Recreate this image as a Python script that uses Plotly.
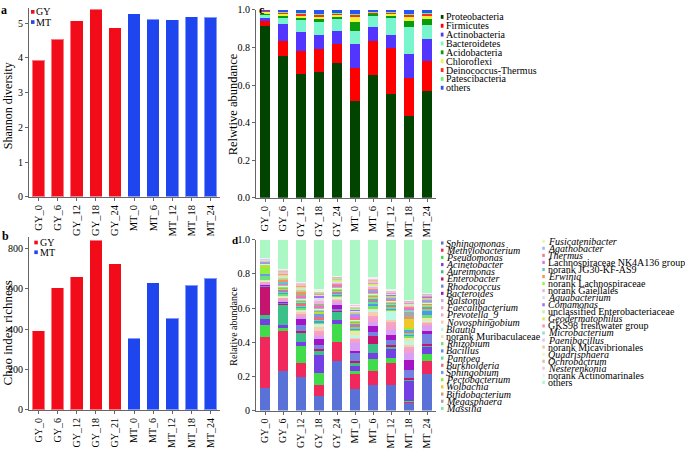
import plotly.graph_objects as go

W, H = 685, 450
FONT = "Liberation Serif, Times New Roman, serif"

# ---------------- data ----------------
gy_a = ["GY_0", "GY_6", "GY_12", "GY_18", "GY_24"]
mt_a = ["MT_0", "MT_6", "MT_12", "MT_18", "MT_24"]
shannon_gy = [3.93, 4.54, 5.07, 5.39, 4.86]
shannon_mt = [5.26, 5.11, 5.09, 5.18, 5.17]

gy_b = ["GY_0", "GY_6", "GY_12", "GY_18", "GY_21"]
mt_b = ["MT_0", "MT_6", "MT_12", "MT_18", "MT_24"]
chao_gy = [393, 607, 660, 842, 726]
chao_mt = [356, 631, 456, 618, 652]

samples = ["GY_0", "GY_6", "GY_12", "GY_18", "GY_24", "MT_0", "MT_6", "MT_12", "MT_18", "MT_24"]

# panel c: phylum relative abundance
phyla = ["Proteobacteria", "Firmicutes", "Actinobacteria", "Bacteroidetes", "Acidobacteria",
         "Chloroflexi", "Deinococcus-Thermus", "Patescibacteria", "others"]
c_proteobacteria = [0.913, 0.757, 0.659, 0.670, 0.717, 0.513, 0.652, 0.553, 0.435, 0.570]
c_firmicutes = [0.026, 0.078, 0.124, 0.121, 0.099, 0.177, 0.183, 0.242, 0.203, 0.159]
c_actinobacteria = [0.018, 0.092, 0.100, 0.073, 0.074, 0.127, 0.075, 0.069, 0.127, 0.114]
c_bacteroidetes = [0.017, 0.035, 0.065, 0.072, 0.061, 0.070, 0.060, 0.093, 0.145, 0.075]
c_acidobacteria = [0.009, 0.008, 0.012, 0.017, 0.014, 0.049, 0.009, 0.013, 0.029, 0.035]
c_chloroflexi = [0.007, 0.009, 0.009, 0.012, 0.009, 0.029, 0.004, 0.009, 0.023, 0.017]
c_deinococcus = [0.005, 0.009, 0.010, 0.009, 0.009, 0.009, 0.005, 0.007, 0.012, 0.009]
c_patescibacteria = [0.002, 0.003, 0.004, 0.005, 0.003, 0.005, 0.004, 0.004, 0.005, 0.003]
c_others = [0.003, 0.009, 0.017, 0.021, 0.014, 0.021, 0.008, 0.010, 0.021, 0.018]

# panel d: genus relative abundance
genera = ["Sphingomonas", "Methylobacterium", "Pseudomonas", "Acinetobacter", "Aureimonas",
          "Enterobacter", "Rhodococcus", "Bacteroides", "Ralstonia", "Faecalibacterium",
          "Prevotella_9", "Novosphingobium", "Blautia", "norank Muribaculaceae", "Rhizobium",
          "Bacillus", "Pantoea", "Burkholderia", "Sphingobium", "Pectobacterium", "Wolbachia",
          "Bifidobacterium", "Megasphaera", "Massilia", "Fusicatenibacter", "Agathobacter",
          "Thermus", "Lachnospiraceae NK4A136 group", "norank JG30-KF-AS9", "Erwinia",
          "norank Lachnospiraceae", "norank Gaiellales", "Aquabacterium", "Comamonas",
          "unclassified Enterobacteriaceae", "Geodermatophilus", "GKS98 freshwater group",
          "Microbacterium", "Paenibacillus", "norank Micavibrionales", "Quadrisphaera",
          "Ochrobactrum", "Nesterenkonia", "norank Actinomarinales", "others"]
d_sphingomonas = [0.133, 0.232, 0.196, 0.088, 0.290, 0.128, 0.152, 0.152, 0.042, 0.213]
d_methylobacterium = [0.299, 0.231, 0.084, 0.059, 0.110, 0.085, 0.077, 0.128, 0.012, 0.080]
d_pseudomonas = [0.071, 0.023, 0.099, 0.074, 0.107, 0.019, 0.070, 0.025, 0.005, 0.040]
d_acinetobacter = [0.034, 0.017, 0.025, 0.105, 0.023, 0.027, 0.040, 0.057, 0.120, 0.038]
d_aureimonas = [0.025, 0.118, 0.047, 0.024, 0.049, 0.023, 0.050, 0.015, 0.005, 0.014]
d_enterobacter = [0.166, 0.005, 0.016, 0.012, 0.008, 0.006, 0.047, 0.005, 0.008, 0.004]
d_rhodococcus = [0.006, 0.010, 0.032, 0.020, 0.008, 0.050, 0.025, 0.030, 0.045, 0.060]
d_bacteroides = [0.008, 0.006, 0.034, 0.034, 0.025, 0.013, 0.034, 0.032, 0.061, 0.015]
d_ralstonia = [0.006, 0.006, 0.012, 0.020, 0.010, 0.045, 0.022, 0.030, 0.038, 0.030]
d_faecalibacterium = [0.004, 0.008, 0.015, 0.015, 0.014, 0.020, 0.022, 0.025, 0.022, 0.012]
d_prevotella_9 = [0.004, 0.006, 0.012, 0.012, 0.010, 0.010, 0.015, 0.022, 0.020, 0.010]
d_novosphingobium = [0.003, 0.004, 0.010, 0.032, 0.006, 0.006, 0.027, 0.010, 0.008, 0.008]
d_blautia = [0.003, 0.006, 0.008, 0.010, 0.006, 0.010, 0.010, 0.049, 0.019, 0.008]
d_muribaculaceae = [0.003, 0.005, 0.006, 0.008, 0.005, 0.030, 0.008, 0.008, 0.026, 0.008]
d_rhizobium = [0.022, 0.008, 0.008, 0.006, 0.006, 0.006, 0.010, 0.008, 0.008, 0.020]
d_bacillus = [0.002, 0.006, 0.006, 0.010, 0.005, 0.004, 0.020, 0.006, 0.010, 0.028]
d_pantoea = [0.003, 0.006, 0.008, 0.008, 0.006, 0.006, 0.009, 0.008, 0.006, 0.006]
d_burkholderia = [0.003, 0.006, 0.008, 0.008, 0.006, 0.020, 0.008, 0.006, 0.012, 0.014]
d_sphingobium = [0.002, 0.006, 0.006, 0.025, 0.005, 0.004, 0.010, 0.006, 0.010, 0.006]
d_pectobacterium = [0.050, 0.006, 0.006, 0.006, 0.005, 0.004, 0.006, 0.005, 0.004, 0.004]
d_wolbachia = [0.001, 0.004, 0.003, 0.003, 0.003, 0.003, 0.005, 0.003, 0.060, 0.003]
d_bifidobacterium = [0.002, 0.003, 0.003, 0.004, 0.003, 0.003, 0.004, 0.003, 0.010, 0.003]
d_megasphaera = [0.001, 0.003, 0.004, 0.004, 0.003, 0.003, 0.004, 0.003, 0.032, 0.003]
d_massilia = [0.003, 0.004, 0.005, 0.006, 0.004, 0.004, 0.006, 0.004, 0.004, 0.004]
d_fusicatenibacter = [0.006, 0.004, 0.004, 0.005, 0.005, 0.004, 0.005, 0.004, 0.003, 0.003]
d_agathobacter = [0.003, 0.005, 0.006, 0.008, 0.004, 0.004, 0.006, 0.004, 0.003, 0.004]
d_thermus = [0.002, 0.005, 0.006, 0.006, 0.005, 0.004, 0.006, 0.004, 0.008, 0.004]
d_lachno_nk4a136 = [0.006, 0.005, 0.006, 0.006, 0.006, 0.025, 0.006, 0.006, 0.004, 0.006]
d_jg30_kf_as9 = [0.001, 0.003, 0.004, 0.004, 0.003, 0.003, 0.004, 0.003, 0.003, 0.003]
d_erwinia = [0.002, 0.020, 0.022, 0.005, 0.004, 0.003, 0.006, 0.004, 0.003, 0.003]
d_norank_lachno = [0.002, 0.004, 0.005, 0.004, 0.004, 0.006, 0.005, 0.004, 0.003, 0.003]
d_gaiellales = [0.003, 0.005, 0.005, 0.008, 0.005, 0.006, 0.008, 0.005, 0.004, 0.004]
d_aquabacterium = [0.002, 0.004, 0.004, 0.020, 0.003, 0.004, 0.004, 0.004, 0.003, 0.003]
d_comamonas = [0.002, 0.004, 0.004, 0.018, 0.003, 0.003, 0.004, 0.004, 0.003, 0.003]
d_unclass_entero = [0.002, 0.004, 0.004, 0.004, 0.004, 0.004, 0.004, 0.003, 0.003, 0.003]
d_geodermatophilus = [0.001, 0.006, 0.003, 0.003, 0.004, 0.003, 0.004, 0.003, 0.002, 0.002]
d_gks98 = [0.001, 0.005, 0.005, 0.004, 0.004, 0.004, 0.006, 0.004, 0.004, 0.003]
d_microbacterium = [0.001, 0.003, 0.003, 0.003, 0.003, 0.003, 0.004, 0.003, 0.002, 0.002]
d_paenibacillus = [0.002, 0.005, 0.004, 0.004, 0.003, 0.005, 0.004, 0.008, 0.003, 0.003]
d_micavibrionales = [0.001, 0.004, 0.006, 0.005, 0.003, 0.003, 0.006, 0.003, 0.002, 0.002]
d_quadrisphaera = [0.001, 0.003, 0.002, 0.002, 0.003, 0.002, 0.003, 0.002, 0.002, 0.002]
d_ochrobactrum = [0.001, 0.003, 0.002, 0.002, 0.002, 0.002, 0.003, 0.002, 0.002, 0.002]
d_nesterenkonia = [0.001, 0.006, 0.002, 0.003, 0.003, 0.006, 0.004, 0.002, 0.002, 0.002]
d_actinomarinales = [0.001, 0.002, 0.002, 0.002, 0.002, 0.002, 0.008, 0.002, 0.002, 0.002]
d_others = [0.105, 0.171, 0.248, 0.291, 0.210, 0.375, 0.219, 0.286, 0.352, 0.310]

# ---------------- styles ----------------
RED = "#F20C1A"
BLUE = "#1F46EE"
AXC = "#666666"
colors_c = ["#004400", "#FF0000", "#5236FF", "#78F5CC", "#0A9A0A", "#F2F23C", "#FF2A2A", "#6CF56C", "#2A55F5"]
colors_d = ["#5A72D8", "#F0285C", "#40DC4C", "#7440E4", "#3CC08A", "#C41470", "#7482E0", "#A414C4",
            "#D8A0F4", "#F4A0CC", "#F4A8C0", "#F8CCB0", "#BCF8E4", "#F4E4A0", "#70E070", "#5096F0",
            "#60E090", "#F06C74", "#7098E8", "#90F040", "#F0C828", "#C8A080", "#A0A8AC", "#80E8A0",
            "#E8F8A0", "#A8B4F0", "#F07890", "#E070F4", "#60C4D4", "#F49454", "#98F048", "#F4B0E4",
            "#D8E0E8", "#A070F4", "#C4F4A4", "#E8E458", "#F494AC", "#94DCCC", "#DCC4F8", "#F8C494",
            "#F4F8B8", "#D4C4A4", "#F8C4E4", "#F0F0F8", "#ACF8C4"]

values_c = [c_proteobacteria, c_firmicutes, c_actinobacteria, c_bacteroidetes, c_acidobacteria,
            c_chloroflexi, c_deinococcus, c_patescibacteria, c_others]
values_d = [d_sphingomonas, d_methylobacterium, d_pseudomonas, d_acinetobacter, d_aureimonas,
            d_enterobacter, d_rhodococcus, d_bacteroides, d_ralstonia, d_faecalibacterium,
            d_prevotella_9, d_novosphingobium, d_blautia, d_muribaculaceae, d_rhizobium,
            d_bacillus, d_pantoea, d_burkholderia, d_sphingobium, d_pectobacterium, d_wolbachia,
            d_bifidobacterium, d_megasphaera, d_massilia, d_fusicatenibacter, d_agathobacter,
            d_thermus, d_lachno_nk4a136, d_jg30_kf_as9, d_erwinia, d_norank_lachno, d_gaiellales,
            d_aquabacterium, d_comamonas, d_unclass_entero, d_geodermatophilus, d_gks98,
            d_microbacterium, d_paenibacillus, d_micavibrionales, d_quadrisphaera, d_ochrobactrum,
            d_nesterenkonia, d_actinomarinales, d_others]


def X(px):
    return px / W


def Y(py):
    return 1 - py / H


fig = go.Figure()
edge = dict(width=1, color="rgba(255,255,255,0.45)")

# panel a
fig.add_bar(x=gy_a, y=shannon_gy, marker_color=RED, marker_line=edge, width=0.66,
            xaxis="x", yaxis="y", showlegend=False)
fig.add_bar(x=mt_a, y=shannon_mt, marker_color=BLUE, marker_line=edge, width=0.66,
            xaxis="x", yaxis="y", showlegend=False)
# panel b
fig.add_bar(x=gy_b, y=chao_gy, marker_color=RED, marker_line=edge, width=0.66,
            xaxis="x2", yaxis="y2", showlegend=False)
fig.add_bar(x=mt_b, y=chao_mt, marker_color=BLUE, marker_line=edge, width=0.66,
            xaxis="x2", yaxis="y2", showlegend=False)
# panel c
for name, vals, col in zip(phyla, values_c, colors_c):
    fig.add_bar(x=samples, y=vals, name=name, marker_color=col, marker_line_width=0,
                width=0.52, xaxis="x3", yaxis="y3", showlegend=False)
# panel d
for name, vals, col in zip(genera, values_d, colors_d):
    fig.add_bar(x=samples, y=vals, name=name, marker_color=col, marker_line_width=0,
                width=0.52, xaxis="x4", yaxis="y4", showlegend=False)

xfont_top = dict(family=FONT, size=10.5, color="#000")
xfont_bot = dict(family=FONT, size=10, color="#000")
yfont = dict(family=FONT, size=10, color="#000")
common_x = dict(type="category", showline=True, linecolor=AXC, linewidth=1, ticks="outside",
                ticklen=3, tickcolor=AXC, tickangle=-90, showgrid=False, zeroline=False)
common_y = dict(showline=True, linecolor=AXC, linewidth=1, ticks="outside", ticklen=3,
                tickcolor=AXC, tickfont=yfont, showgrid=False, zeroline=False)

dom_ab = [X(29), X(220)]
dom_cd = [X(256), X(436)]

fig.update_layout(
    width=W, height=H,
    margin=dict(l=0, r=0, t=0, b=0),
    paper_bgcolor="white", plot_bgcolor="white",
    barmode="stack",
    font=dict(family=FONT, color="#000"),
    xaxis=dict(common_x, domain=dom_ab, anchor="y", tickfont=xfont_top,
               categoryorder="array", categoryarray=gy_a + mt_a),
    yaxis=dict(common_y, domain=[Y(196), Y(2.5)], anchor="x", range=[0, 5.42], dtick=1),
    xaxis2=dict(common_x, domain=dom_ab, anchor="y2", tickfont=xfont_bot,
                categoryorder="array", categoryarray=gy_b + mt_b),
    yaxis2=dict(common_y, domain=[Y(415), Y(237.5)], anchor="x2", range=[0, 857],
                tickvals=[0, 200, 400, 600, 800]),
    xaxis3=dict(common_x, domain=dom_cd, anchor="y3", tickfont=xfont_top,
                categoryorder="array", categoryarray=samples),
    yaxis3=dict(common_y, domain=[Y(197), Y(4)], anchor="x3", range=[0, 1.0],
                tickvals=[0, 0.2, 0.4, 0.6, 0.8, 1.0], ticktext=["0.0", "0.2", "0.4", "0.6", "0.8", "1.0"]),
    xaxis4=dict(common_x, domain=dom_cd, anchor="y4", tickfont=xfont_bot,
                categoryorder="array", categoryarray=samples),
    yaxis4=dict(common_y, domain=[Y(415.7), Y(240)], anchor="x4", range=[0, 1.0],
                tickvals=[0, 0.2, 0.4, 0.6, 0.8, 1.0], ticktext=["0", "0.2", "0.4", "0.6", "0.8", "1.0"]),
)

annotations = []
shapes = []


def text(px, py, s, size=11, xanchor="left", angle=0, bold=False):
    annotations.append(dict(x=X(px), y=Y(py), xref="paper", yref="paper",
                            text=("<b>%s</b>" % s) if bold else s,
                            showarrow=False, xanchor=xanchor, yanchor="middle", textangle=angle,
                            font=dict(family=FONT, size=size, color="#000"), borderpad=0))


def square(x0, x1, yc, h, col):
    shapes.append(dict(type="rect", xref="paper", yref="paper", x0=X(x0), x1=X(x1),
                       y0=Y(yc + h / 2), y1=Y(yc - h / 2), fillcolor=col, line=dict(width=0)))


# panel letters
text(0, 4, "a", size=12, bold=True)
text(1, 236, "b", size=12, bold=True)
text(258, 4, "c", size=12, bold=True)
text(231, 240, "d", size=11, bold=True)

# y-axis titles
text(8, 103, "Shannon diversity", size=12, xanchor="center", angle=-90)
text(7.5, 336, "Chao index richness", size=13, xanchor="center", angle=-90)
text(233, 101, "Relwtive abundance", size=12.5, xanchor="center", angle=-90)
text(233.5, 329, "Relative abundance", size=10, xanchor="center", angle=-90)

# legends a / b
for (x0, yc, lab, col) in [(31, 6, "GY", RED), (31, 16.5, "MT", BLUE),
                           (34.3, 243, "GY", RED), (34.3, 253, "MT", BLUE)]:
    square(x0, x0 + 3.5, yc, 3.8, col)
    text(x0 + 4.2, yc, lab, size=10)

# legend c
for i, (name, col) in enumerate(zip(phyla, colors_c)):
    yc = 11.2 + i * 9.1
    square(440.8, 443.5, yc, 4, col)
    text(445.5, yc, name, size=10)

# legend d
upright_prefix = ("norank", "unclassified", "Lachnospiraceae", "GKS98", "others")
for i, (name, col) in enumerate(zip(genera, colors_d)):
    if i < 24:
        x0, yc = 441, 243.5 + i * 7.39
    else:
        x0, yc = 542.3, 241.7 + (i - 24) * 7.25
    square(x0, x0 + 2.5, yc, 3.2, col)
    label = name if name.startswith(upright_prefix) else "<i>%s</i>" % name
    text(x0 + 4.2, yc, label, size=10)

fig.update_layout(annotations=annotations, shapes=shapes)
fig.write_html("out.html",
               config={"displayModeBar": False},
               post_script="document.body.style.margin='0px';document.body.style.overflow='hidden';")
